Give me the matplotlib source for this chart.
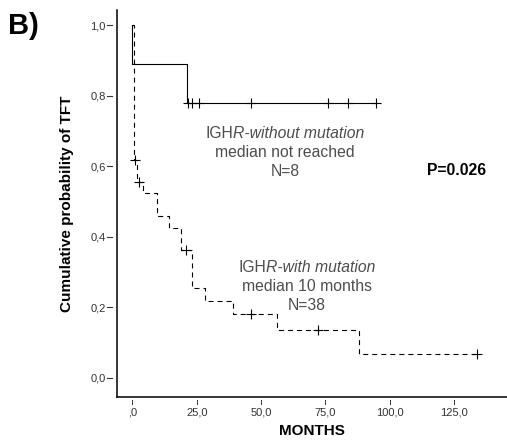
"""Kaplan-Meier style TFT curves, IGHR with / without mutation (panel B)."""
import matplotlib
matplotlib.use("Agg")
import matplotlib.pyplot as plt
from matplotlib.transforms import blended_transform_factory

plt.rcParams["font.family"] = ["Liberation Sans", "DejaVu Sans"]
plt.rcParams["lines.scale_dashes"] = False

# ── data ─────────────────────────────────────────────────────────────────────
# IGHR without mutation (N=8), solid
WO_EVENT_T = [0.0, 21.2]
WO_SURV    = [0.89, 0.78]
WO_CENSOR  = [21.5, 23.1, 25.9, 46.1, 76.1, 83.9, 94.8]

# IGHR with mutation (N=38), dashed
W_EVENT_T = [0.5, 1.8, 4.0, 9.4, 14.2, 19.0, 23.1, 28.2, 39.1, 56.1, 88.0]
W_SURV    = [0.618, 0.555, 0.523, 0.458, 0.424, 0.361, 0.253, 0.218, 0.180, 0.135, 0.067]
W_CENSOR  = [1.05, 2.6, 20.8, 46.1, 72.0, 133.8]

X_TICKS = [0, 25, 50, 75, 100, 125]
X_TICKLABELS = [",0", "25,0", "50,0", "75,0", "100,0", "125,0"]
Y_TICKS = [0.0, 0.2, 0.4, 0.6, 0.8, 1.0]
Y_TICKLABELS = ["0,0", "0,2", "0,4", "0,6", "0,8", "1,0"]

TEXT_GREY = "#4d4d4d"


def step_value(t, times, surv):
    s = 1.0
    for ti, si in zip(times, surv):
        if ti <= t:
            s = si
    return s


def km_xy(times, surv, end):
    xs = [0.0] + list(times) + [end]
    ys = [1.0] + list(surv) + [surv[-1]]
    return xs, ys


fig = plt.figure(figsize=(5.07, 4.43), dpi=100)
ax = fig.add_axes([0.2302, 0.1032, 0.7698, 0.8742])

# curves
xs, ys = km_xy(WO_EVENT_T, WO_SURV, WO_CENSOR[-1])
ax.step(xs, ys, where="post", color="black", lw=0.8)
ax.plot(WO_CENSOR, [step_value(t, WO_EVENT_T, WO_SURV) for t in WO_CENSOR],
        ls="none", marker="+", ms=7, mew=0.8, color="black")

xs, ys = km_xy(W_EVENT_T, W_SURV, W_CENSOR[-1])
ax.step(xs, ys, where="post", color="black", lw=0.8, dashes=(3.6, 2.9))
ax.plot(W_CENSOR, [step_value(t, W_EVENT_T, W_SURV) for t in W_CENSOR],
        ls="none", marker="+", ms=7, mew=0.8, color="black")

ax.set_xlim(-6.06, 145.5)
ax.set_ylim(-0.0556, 1.043)

for s in ["top", "right"]:
    ax.spines[s].set_visible(False)
for s in ["left", "bottom"]:
    ax.spines[s].set_linewidth(1.1)

# SPSS-like detached ticks
ax.set_xticks(X_TICKS)
ax.set_xticklabels(X_TICKLABELS, fontsize=8, color="#333333")
ax.set_yticks(Y_TICKS)
ax.set_yticklabels(Y_TICKLABELS, fontsize=8, color="#333333")
ax.tick_params(axis="both", length=0)
ax.tick_params(axis="x", pad=7)
ax.tick_params(axis="y", pad=8)

tx = blended_transform_factory(ax.transData, ax.transAxes)
for x in X_TICKS:
    ax.plot([x, x], [-0.0075, -0.0175], transform=tx, color="#333333",
            lw=0.7, clip_on=False)
ty = blended_transform_factory(ax.transAxes, ax.transData)
for y in Y_TICKS:
    ax.plot([-0.0249, -0.012], [y, y], transform=ty, color="#333333",
            lw=0.8, clip_on=False)

ax.set_xlabel("MONTHS", fontsize=11, fontweight="bold", labelpad=5)
ax.set_ylabel("Cumulative probability of TFT", fontsize=11,
              fontweight="bold", labelpad=12)

# group annotations with mixed upright / italic first line
renderer = fig.canvas.get_renderer()


def mixed_line(x, y, upright, italic):
    a = ax.text(0, 0, upright, fontsize=11.3)
    b = ax.text(0, 0, italic, fontsize=11.3, style="italic")
    wa = a.get_window_extent(renderer).width
    wb = b.get_window_extent(renderer).width
    a.remove()
    b.remove()
    off = (wa - wb) / 2
    ax.annotate(upright, xy=(x, y), xytext=(off, 0), textcoords="offset pixels",
                ha="right", va="center", fontsize=11.3, color=TEXT_GREY)
    ax.annotate(italic, xy=(x, y), xytext=(off, 0), textcoords="offset pixels",
                ha="left", va="center", fontsize=11.3, style="italic",
                color=TEXT_GREY)


mixed_line(59.2, 0.694, "IGH", "R-without mutation")
ax.text(59.2, 0.640, "median not reached", ha="center", va="center",
        fontsize=11.3, color=TEXT_GREY)
ax.text(59.2, 0.585, "N=8", ha="center", va="center", fontsize=11.3,
        color=TEXT_GREY)

mixed_line(67.9, 0.313, "IGH", "R-with mutation")
ax.text(67.9, 0.259, "median 10 months", ha="center", va="center",
        fontsize=11.3, color=TEXT_GREY)
ax.text(67.9, 0.206, "N=38", ha="center", va="center", fontsize=11.3,
        color=TEXT_GREY)

ax.text(126.0, 0.587, "P=0.026", ha="center", va="center", fontsize=11.3,
        fontweight="bold", color="black")

fig.text(8 / 507, 1 - 12 / 443, "B)", ha="left", va="top", fontsize=21,
         fontweight="bold")

fig.savefig("out.png", dpi=100)
